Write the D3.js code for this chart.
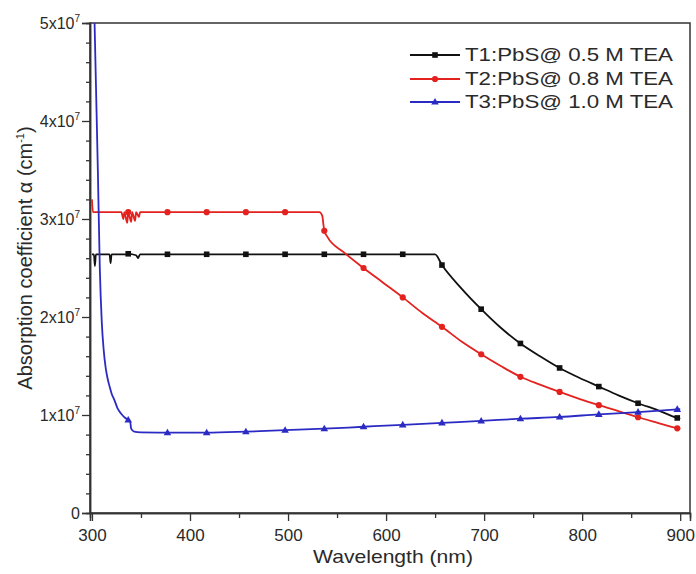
<!DOCTYPE html>
<html>
<head>
<meta charset="utf-8">
<script src="https://cdn.jsdelivr.net/npm/d3@7"></script>
<style>
  html, body { margin: 0; padding: 0; background: #fff; }
  svg { display: block; font-family: "Liberation Sans", Arial, sans-serif; }
</style>
</head>
<body>
<svg id="chart" width="696" height="574"></svg>
<script>
// ---- data (values in units of 1e7 cm^-1) ----
const seriesNames = ["T1:PbS@ 0.5 M TEA", "T2:PbS@ 0.8 M TEA", "T3:PbS@ 1.0 M TEA"];
const seriesColors = ["#111111", "#e3221f", "#2b2bc4"];
const seriesSymbols = ["square", "circle", "triangle"];
const markerWavelengths = [337, 377, 417, 457, 497, 537, 577, 617, 657, 697, 737, 777, 817, 857, 897];

const t1Line = [[300,2.64],[302,2.64],[303,2.52],[304,2.64],[318,2.64],[319,2.55],[320,2.64],[335,2.64],[337,2.645],
  [345,2.63],[347,2.60],[349,2.64],[377,2.64],[417,2.64],[457,2.64],[497,2.64],[537,2.64],[577,2.64],[617,2.64],
  [650,2.64],[657,2.53],[677,2.29],[697,2.08],[717,1.89],[737,1.73],[757,1.60],[777,1.48],[797,1.38],[817,1.29],
  [837,1.20],[857,1.12],[877,1.05],[897,0.97],[900,0.96]];

const t2Line = [[300,3.2],[301,3.07],[330,3.07],[332,3.0],[333,3.07],[336,2.96],[337,3.07],[340,2.97],[341,3.07],
  [344,2.98],[345,3.07],[348,3.02],[349,3.07],[377,3.07],[417,3.07],[457,3.07],[497,3.07],[532,3.07],[535,3.03],
  [536,2.95],[537,2.88],[540,2.82],[557,2.66],[577,2.50],[597,2.35],[617,2.20],[637,2.04],[657,1.90],[677,1.75],
  [697,1.62],[717,1.50],[737,1.39],[757,1.31],[777,1.235],[797,1.165],[817,1.10],[837,1.04],[857,0.977],[877,0.92],
  [897,0.864],[900,0.857]];

const t3Line = [[300,6.2],[302,5.3],[304,4.4],[306,3.5],[308,2.5],[310,1.95],[312,1.66],[314,1.48],[316,1.37],
  [318,1.29],[320,1.22],[323,1.15],[326,1.07],[330,1.01],[334,0.97],[337,0.95],[339,0.93],[340,0.86],[343,0.83],
  [350,0.822],[377,0.82],[417,0.82],[457,0.83],[497,0.845],[537,0.86],[577,0.88],[617,0.90],[657,0.92],[697,0.94],
  [737,0.962],[777,0.98],[817,1.007],[857,1.03],[897,1.058],[900,1.06]];

const xMajorTicks = [300, 400, 500, 600, 700, 800, 900];
const xMinorTicks = [350, 450, 550, 650, 750, 850];
const yMajorTicks = [0, 1, 2, 3, 4, 5];
const yMinorTicks = [0.2,0.4,0.6,0.8,1.2,1.4,1.6,1.8,2.2,2.4,2.6,2.8,3.2,3.4,3.6,3.8,4.2,4.4,4.6,4.8];

const allSeries = [t1Line, t2Line, t3Line];

// ---- layout ----
const svg = d3.select("#chart");
const mLeft = 90, mRight = 690, mTop = 23, mBottom = 513;
const x = d3.scaleLinear().domain([298, 910]).range([mLeft, mRight]);
const y = d3.scaleLinear().domain([0, 5]).range([mBottom, mTop]);
const textColor = "#2a2a2a";

svg.append("defs").append("clipPath").attr("id", "clip")
  .append("rect").attr("x", mLeft).attr("y", mTop).attr("width", mRight - mLeft).attr("height", mBottom - mTop);

// frame
svg.append("rect").attr("x", mLeft).attr("y", mTop).attr("width", mRight - mLeft).attr("height", mBottom - mTop)
  .attr("fill", "none").attr("stroke", "#333").attr("stroke-width", 1.5);

// x axis
const xAxisG = svg.append("g").attr("transform", `translate(0,${mBottom})`)
  .call(d3.axisBottom(x).tickValues(xMajorTicks).tickSize(8).tickPadding(8).tickFormat(d3.format("d")));
svg.append("g").attr("transform", `translate(0,${mBottom})`)
  .call(d3.axisBottom(x).tickValues(xMinorTicks).tickSize(5).tickFormat(""));
// y axis
const yAxisG = svg.append("g").attr("transform", `translate(${mLeft},0)`)
  .call(d3.axisLeft(y).tickValues(yMajorTicks).tickSize(8).tickPadding(2));
svg.append("g").attr("transform", `translate(${mLeft},0)`)
  .call(d3.axisLeft(y).tickValues(yMinorTicks).tickSize(4).tickFormat(""));

svg.selectAll(".domain").attr("stroke", "#333").attr("stroke-width", 1.5);
svg.selectAll(".tick line").attr("stroke", "#333").attr("stroke-width", 1.3);
xAxisG.selectAll("text").attr("font-size", 17).attr("fill", textColor)
  .attr("font-family", "Liberation Sans, Arial, sans-serif");
yAxisG.selectAll("text").attr("font-size", 16).attr("fill", textColor)
  .attr("font-family", "Liberation Sans, Arial, sans-serif")
  .each(function(d) {
    const t = d3.select(this);
    t.text(null);
    if (d === 0) { t.text("0"); return; }
    t.append("tspan").text(d + "x10");
    t.append("tspan").attr("dy", -7).attr("font-size", 10).text("7");
  });

// lines
const line = d3.line().x(d => x(d[0])).y(d => y(d[1])).curve(d3.curveMonotoneX);
const plot = svg.append("g").attr("clip-path", "url(#clip)");
allSeries.forEach((data, i) => {
  plot.append("path").datum(data).attr("fill", "none")
    .attr("stroke", seriesColors[i]).attr("stroke-width", 1.8).attr("d", line);
});

function drawSymbol(g, type, cx, cy, color) {
  if (type === "square") {
    g.append("rect").attr("x", cx - 2.8).attr("y", cy - 2.8).attr("width", 5.6).attr("height", 5.6).attr("fill", color);
  } else if (type === "circle") {
    g.append("circle").attr("cx", cx).attr("cy", cy).attr("r", 3.1).attr("fill", color);
  } else {
    g.append("path").attr("d", `M${cx},${cy - 4}L${cx + 3.8},${cy + 2.6}L${cx - 3.8},${cy + 2.6}Z`).attr("fill", color);
  }
}

allSeries.forEach((data, i) => {
  const g = plot.append("g");
  data.filter(d => markerWavelengths.includes(d[0])).forEach(d => {
    drawSymbol(g, seriesSymbols[i], x(d[0]), y(d[1]), seriesColors[i]);
  });
});

// legend
const legendRows = [55, 79, 102];
seriesNames.forEach((name, i) => {
  const ly = legendRows[i];
  svg.append("line").attr("x1", 410).attr("x2", 460).attr("y1", ly).attr("y2", ly)
    .attr("stroke", seriesColors[i]).attr("stroke-width", 1.8);
  drawSymbol(svg, seriesSymbols[i], 435, ly, seriesColors[i]);
  svg.append("text").attr("x", 465).attr("y", ly).attr("dy", "0.35em")
    .attr("font-size", 18).attr("fill", textColor)
    .attr("textLength", 208).attr("lengthAdjust", "spacingAndGlyphs")
    .text(name);
});

// axis titles
svg.append("text").attr("x", 393).attr("y", 563).attr("text-anchor", "middle")
  .attr("font-size", 19).attr("fill", textColor)
  .attr("textLength", 160).attr("lengthAdjust", "spacingAndGlyphs").text("Wavelength (nm)");

const yt = svg.append("text").attr("transform", "translate(32,258) rotate(-90)")
  .attr("text-anchor", "middle").attr("font-size", 20).attr("fill", textColor);
yt.append("tspan").text("Absorption coefficient α (cm");
yt.append("tspan").attr("dy", -8).attr("font-size", 11).text("-1");
yt.append("tspan").attr("dy", 8).text(")");
</script>
</body>
</html>
